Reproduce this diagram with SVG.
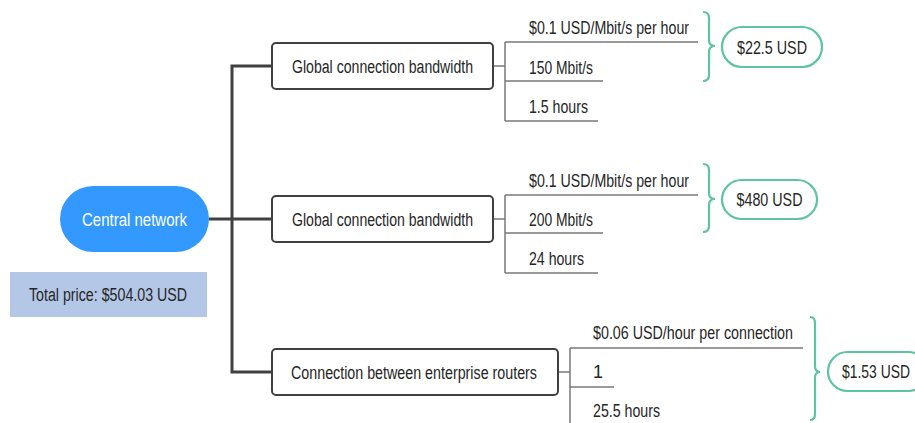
<svg xmlns="http://www.w3.org/2000/svg" width="915" height="423" viewBox="0 0 915 423">
<style>
text{font-family:"Liberation Sans",Arial,sans-serif;font-size:18px;fill:#262626}
.box{fill:#fff;stroke:#404040;stroke-width:2}
.val{fill:#fff;stroke:#5dc3a0;stroke-width:2.2}
.brace{fill:none;stroke:#5dc3a0;stroke-width:2.2}
.main{fill:none;stroke:#404040;stroke-width:3}
.thin{fill:none;stroke:#7a7a7a;stroke-width:1.5}
</style>
<rect width="915" height="423" fill="#fff"/>
<g id="connectors">
<path class="main" d="M209,219 H272 M272,66 H232 V372 H272"/>
<path class="thin" d="M493,66 H505 M505,42 V121 M505,42 H698 M505,81 H603 M505,121 H598"/>
<path class="thin" d="M493,219 H505 M505,195 V273 M505,195 H698 M505,233 H603 M505,273 H598"/>
<path class="thin" d="M558,372 H570 M570,348 V430 M570,348 H803 M570,387 H614 M570,427 H640"/>
<path class="brace" d="M703,12 Q709,12 709,18 V40 Q709,46 715,46 Q709,46 709,52 V75 Q709,81 703,81"/>
<path class="brace" d="M703,164 Q709,164 709,170 V193 Q709,199 715,199 Q709,199 709,205 V226 Q709,232 703,232"/>
<path class="brace" d="M810,317 Q815,317 815,323 V366 Q815,372 820,372 Q815,372 815,378 V414 Q815,420 810,420"/>
</g>
<g id="central">
<rect x="60" y="186" width="149" height="66" rx="33" fill="#3399ff"/>
<text x="134.5" y="226" text-anchor="middle" style="fill:#fff;font-size:19px" textLength="105" lengthAdjust="spacingAndGlyphs">Central network</text>
</g>
<g id="total">
<rect x="10" y="272" width="197" height="45" fill="#b4c7e7"/>
<text x="108" y="301" text-anchor="middle" textLength="158" lengthAdjust="spacingAndGlyphs">Total price: $504.03 USD</text>
</g>
<g id="item1">
<rect class="box" x="272" y="43" width="221" height="46" rx="4"/>
<text x="382.5" y="73" text-anchor="middle" textLength="181" lengthAdjust="spacingAndGlyphs">Global connection bandwidth</text>
<text x="529" y="34" textLength="160" lengthAdjust="spacingAndGlyphs">$0.1 USD/Mbit/s per hour</text>
<text x="529" y="74" textLength="64" lengthAdjust="spacingAndGlyphs">150 Mbit/s</text>
<text x="529" y="113" textLength="59" lengthAdjust="spacingAndGlyphs">1.5 hours</text>
</g>
<g id="value1">
<rect class="val" x="722" y="27" width="100" height="40" rx="20"/>
<text x="772" y="54" text-anchor="middle" textLength="70" lengthAdjust="spacingAndGlyphs">$22.5 USD</text>
</g>
<g id="item2">
<rect class="box" x="272" y="196" width="221" height="46" rx="4"/>
<text x="382.5" y="226" text-anchor="middle" textLength="181" lengthAdjust="spacingAndGlyphs">Global connection bandwidth</text>
<text x="529" y="187" textLength="160" lengthAdjust="spacingAndGlyphs">$0.1 USD/Mbit/s per hour</text>
<text x="529" y="226" textLength="64" lengthAdjust="spacingAndGlyphs">200 Mbit/s</text>
<text x="529" y="265" textLength="55" lengthAdjust="spacingAndGlyphs">24 hours</text>
</g>
<g id="value2">
<rect class="val" x="722" y="180" width="95" height="39" rx="19.5"/>
<text x="769.5" y="206" text-anchor="middle" textLength="66" lengthAdjust="spacingAndGlyphs">$480 USD</text>
</g>
<g id="item3">
<rect class="box" x="272" y="349" width="286" height="46" rx="4"/>
<text x="414" y="379" text-anchor="middle" textLength="246" lengthAdjust="spacingAndGlyphs">Connection between enterprise routers</text>
<text x="593" y="339" textLength="200" lengthAdjust="spacingAndGlyphs">$0.06 USD/hour per connection</text>
<text x="593" y="378">1</text>
<text x="593" y="417" textLength="67" lengthAdjust="spacingAndGlyphs">25.5 hours</text>
</g>
<g id="value3">
<rect class="val" x="828" y="352" width="100" height="39" rx="19.5"/>
<text x="842" y="378" textLength="68" lengthAdjust="spacingAndGlyphs">$1.53 USD</text>
</g>
</svg>
